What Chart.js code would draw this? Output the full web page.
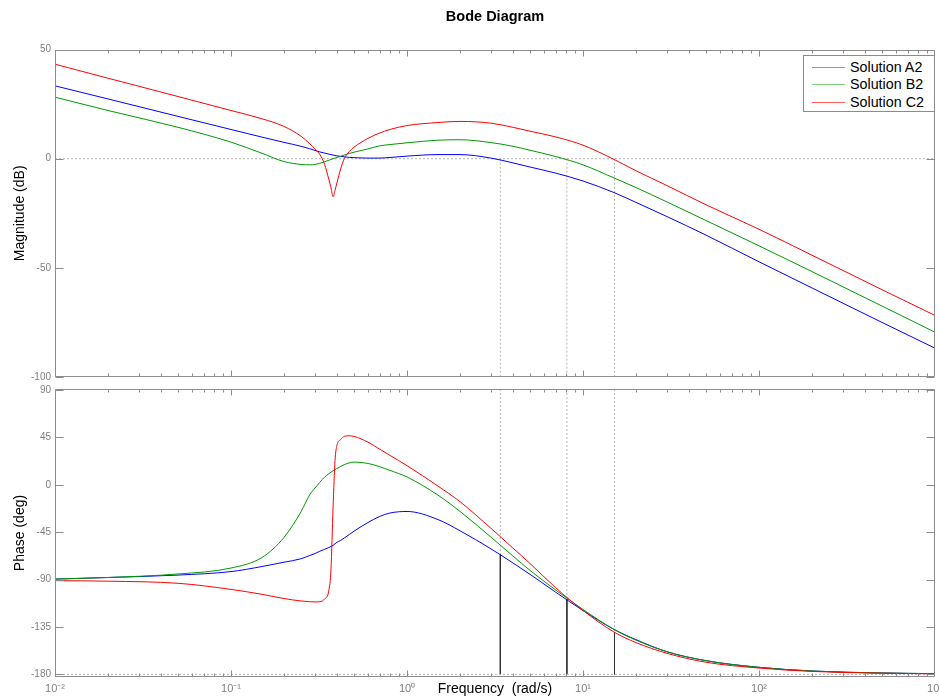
<!DOCTYPE html>
<html>
<head>
<meta charset="utf-8">
<script src="https://cdn.jsdelivr.net/npm/chart.js@4.4.1/dist/chart.umd.min.js"></script>
<style>
  body { margin: 0; background: #fff; }
  #wrap { position: relative; width: 939px; height: 699px; overflow: hidden; background: #fff; }
  canvas { position: absolute; left: 0; }
  #magChart { top: 0; }
  #phaseChart { top: 378px; }
  #legend {
    position: absolute; left: 803px; top: 55px; width: 130px; height: 55px;
    border: 1px solid #8c8c8c; background: #fff;
    font: 14.3px "Liberation Sans", Arial, sans-serif; color: #000;
  }
  .row { position: absolute; left: 0; width: 130px; height: 18px; line-height: 18px; }
  .sample { position: absolute; left: 8px; top: 9px; width: 33px; height: 1px; }
  .label { position: absolute; left: 46px; white-space: nowrap; }
</style>
</head>
<body>
<div id="wrap">
  <canvas id="magChart" width="939" height="384"></canvas>
  <canvas id="phaseChart" width="939" height="321"></canvas>
  <div id="legend"></div>
</div>
<script>
// frequencies (rad/s)
var freq = [0.01, 0.02, 0.05, 0.1, 0.15, 0.2, 0.25, 0.28, 0.3, 0.32, 0.34, 0.36, 0.37, 0.38, 0.39, 0.4,
  0.42, 0.44, 0.47, 0.5, 0.6, 0.7, 0.8, 1, 1.5, 2, 3, 4, 5, 7, 10, 15, 20, 30, 50, 100, 200, 500, 1000];

// magnitude (dB)
var magA2 = [33.4, 27.4, 19.4, 13.4, 9.9, 7.5, 5.7, 4.6, 3.8, 3.1, 2.6, 2.1, 1.9, 1.7, 1.5, 1.3,
  1.1, 0.9, 0.6, 0.5, 0.3, 0.3, 0.6, 1.2, 1.9, 1.9, 0.3, -1.9, -3.8, -6.6, -10.2, -15.5, -20.0, -26.5, -35.0, -47.2, -59.2, -75.0, -86.8];
var magB2 = [28.2, 22.1, 14.4, 7.6, 2.5, -1.3, -2.6, -2.8, -2.6, -2.1, -1.4, -0.7, -0.3, 0.0, 0.3, 0.6,
  1.1, 1.7, 2.4, 3.0, 4.5, 5.9, 6.5, 7.3, 8.5, 8.7, 7.4, 5.7, 3.9, 1.0, -2.8, -8.8, -13.2, -19.8, -28.3, -39.9, -51.7, -67.5, -79.5];
var magC2 = [43.3, 36.9, 28.5, 22.1, 18.3, 14.8, 10.3, 6.9, 4.4, 1.9, -2.5, -9.6, -13.3, -17.4, -14.5, -11.0,
  -4.6, 0.0, 3.3, 5.3, 9.3, 11.8, 13.4, 15.2, 16.6, 17.1, 16.3, 14.4, 12.6, 10.0, 6.2, -0.3, -5.5, -12.3, -21.1, -32.3, -44.2, -60.0, -71.8];

// phase (deg)
var phaseA2 = [-89.5, -88.0, -85.7, -82.4, -77.6, -73.5, -70.2, -67.1, -65.3, -63.0, -61.3, -59.5, -58.5, -57.5, -56.0, -54.5,
  -52.8, -50.5, -47.2, -44.0, -35.8, -30.0, -26.8, -25.3, -33.0, -43.6, -60.8, -74.2, -85.0, -102.0, -119.4, -137.3, -147.0, -158.5, -167.0, -173.3, -176.8, -178.7, -179.3];
var phaseB2 = [-89.5, -88.0, -84.7, -79.0, -69.0, -50.0, -25.5, -9.5, -3.0, 2.5, 7.3, 10.6, 12.0, 13.3, 14.5, 15.6,
  17.5, 19.2, 20.8, 21.6, 20.3, 17.2, 13.7, 7.5, -9.8, -25.2, -49.7, -67.6, -81.3, -99.9, -118.3, -137.3, -147.5, -158.5, -167.0, -173.3, -176.8, -178.7, -179.3];
var phaseC2 = [-91.0, -91.5, -93.5, -99.3, -104.0, -108.0, -110.3, -111.0, -111.2, -111.0, -108.5, -100.0, -80.0, -22.0, 23.0, 37.5,
  43.0, 46.0, 46.6, 46.0, 40.5, 33.8, 28.0, 18.2, -1.2, -16.0, -41.3, -60.1, -74.7, -97.8, -119.3, -139.8, -149.8, -160.0, -168.5, -174.0, -177.2, -178.9, -179.5];

var seriesNames = ["Solution A2", "Solution B2", "Solution C2"];
var seriesColors = ["#0000ff", "#009a00", "#ff0000"];
var legendColors = ["#8c8cff", "#7ccf7c", "#ff5c5c"];
var legendRowTops = [2, 19, 37];

// gain crossover frequencies and the phase there
var crossFreq = [3.39, 8.1, 15.1];
var crossPhase = [-65.9, -108.5, -139.8];

var magTicks = [50, 0, -50, -100];
var phaseTicks = [90, 45, 0, -45, -90, -135, -180];
var freqTicks = [0.01, 0.1, 1, 10, 100, 1000];
var freqTickLabels = ["10\u207B\u00B2", "10\u207B\u00B9", "10\u2070", "10\u00B9", "10\u00B2", "10\u00B3"];

Chart.defaults.font.family = "'Liberation Sans', Arial, sans-serif";
Chart.defaults.animation = false;

function pairs(ys) {
  return freq.map(function (f, i) { return { x: f, y: ys[i] }; });
}

function refLine(pts, color, dash) {
  return {
    data: pts, borderColor: color, borderWidth: 1, borderDash: dash,
    pointRadius: 0, order: 10, tension: 0
  };
}

function curve(i, ys) {
  return {
    label: seriesNames[i], data: pairs(ys), borderColor: seriesColors[i], borderWidth: 1,
    pointRadius: 0, cubicInterpolationMode: "monotone", order: 3 - i
  };
}

// box + inward ticks like the original axes
var frameTicks = {
  id: "frameTicks",
  afterDraw: function (chart) {
    var ctx = chart.ctx, a = chart.chartArea, xs = chart.scales.x, ys = chart.scales.y;
    ctx.save();
    ctx.strokeStyle = "#8c8c8c";
    ctx.lineWidth = 1;
    ctx.beginPath();
    var L = Math.round(a.left) + 0.5, R = Math.round(a.right) - 0.5;
    var T = Math.round(a.top) + 0.5, B = Math.round(a.bottom) - 0.5;
    ctx.rect(L, T, R - L, B - T);
    for (var e = -2; e <= 2; e++) {
      for (var k = 1; k <= 9; k++) {
        var px = Math.round(xs.getPixelForValue(k * Math.pow(10, e))) + 0.5;
        var len = k === 1 ? 6 : 3;
        ctx.moveTo(px, T); ctx.lineTo(px, T + len);
        ctx.moveTo(px, B); ctx.lineTo(px, B - len);
      }
    }
    ys.ticks.forEach(function (t) {
      var py = Math.round(ys.getPixelForValue(t.value)) + 0.5;
      ctx.moveTo(L, py); ctx.lineTo(L + 8, py);
      ctx.moveTo(R, py); ctx.lineTo(R - 8, py);
    });
    ctx.stroke();
    ctx.restore();
  }
};

function yScale(min, max, tickList, title) {
  return {
    min: min, max: max,
    afterBuildTicks: function (s) { s.ticks = tickList.map(function (v) { return { value: v }; }); },
    afterFit: function (s) { s.width = 55; s.paddingTop = 0; s.paddingBottom = 0; },
    grid: { display: false, drawTicks: false },
    border: { display: false },
    ticks: { color: "#7f7f7f", font: { size: 10 }, padding: 4 },
    title: { display: true, text: title, color: "#000", font: { size: 14 }, padding: { top: 12, bottom: 0 } }
  };
}

var magDatasets = [curve(0, magA2), curve(1, magB2), curve(2, magC2),
  refLine([{ x: 0.01, y: 0 }, { x: 1000, y: 0 }], "#b4b4b4", [2, 2])];
crossFreq.forEach(function (f) {
  magDatasets.push(refLine([{ x: f, y: 0 }, { x: f, y: -100 }], "#b4b4b4", [2, 2]));
});

new Chart(document.getElementById("magChart"), {
  type: "line",
  data: { datasets: magDatasets },
  options: {
    responsive: false,
    layout: { padding: { top: 0, right: 4, bottom: 7, left: 0 } },
    plugins: {
      legend: { display: false },
      tooltip: { enabled: false },
      title: {
        display: true, text: "Bode Diagram", fullSize: false, color: "#000",
        font: { size: 14.5, weight: "bold" }, padding: { top: 8.6, bottom: 23.6 }
      }
    },
    scales: {
      x: {
        type: "logarithmic", min: 0.01, max: 1000,
        afterFit: function (s) { s.height = 0; s.paddingLeft = 0; s.paddingRight = 0; },
        grid: { display: false, drawTicks: false },
        border: { display: false },
        ticks: { display: false }
      },
      y: yScale(-100, 50, magTicks, "Magnitude (dB)")
    }
  },
  plugins: [frameTicks]
});

var phaseDatasets = [curve(0, phaseA2), curve(1, phaseB2), curve(2, phaseC2),
  refLine([{ x: 0.01, y: -180 }, { x: 1000, y: -180 }], "#b4b4b4", [2, 2])];
crossFreq.forEach(function (f, i) {
  phaseDatasets.push(refLine([{ x: f, y: 91 }, { x: f, y: crossPhase[i] }], "#b4b4b4", [2, 2]));
  phaseDatasets.push(refLine([{ x: f, y: crossPhase[i] }, { x: f, y: -180 }], "#333333", []));
});

new Chart(document.getElementById("phaseChart"), {
  type: "line",
  data: { datasets: phaseDatasets },
  options: {
    responsive: false,
    layout: { padding: { top: 11, right: 4, bottom: 0, left: 0 } },
    plugins: { legend: { display: false }, tooltip: { enabled: false } },
    scales: {
      x: {
        type: "logarithmic", min: 0.01, max: 1000,
        afterBuildTicks: function (s) { s.ticks = freqTicks.map(function (v) { return { value: v }; }); },
        afterFit: function (s) { s.height = 22; s.paddingLeft = 0; s.paddingRight = 0; },
        grid: { display: false, drawTicks: false },
        border: { display: false },
        ticks: {
          color: "#7f7f7f", font: { size: 11 }, padding: 5, autoSkip: false, maxRotation: 0, minRotation: 0,
          callback: function (v, i) { return freqTickLabels[i]; }
        },
        title: { display: true, text: "Frequency  (rad/s)", color: "#000", font: { size: 14 }, padding: { top: 0, bottom: 1 } }
      },
      y: yScale(-182.5, 91, phaseTicks, "Phase (deg)")
    }
  },
  plugins: [frameTicks]
});

// legend box inside the magnitude axes
var legend = document.getElementById("legend");
seriesNames.forEach(function (name, i) {
  var row = document.createElement("div");
  row.className = "row";
  row.style.top = legendRowTops[i] + "px";
  var sample = document.createElement("div");
  sample.className = "sample";
  sample.style.backgroundColor = legendColors[i];
  var label = document.createElement("span");
  label.className = "label";
  label.textContent = name;
  row.appendChild(sample);
  row.appendChild(label);
  legend.appendChild(row);
});
</script>
</body>
</html>
